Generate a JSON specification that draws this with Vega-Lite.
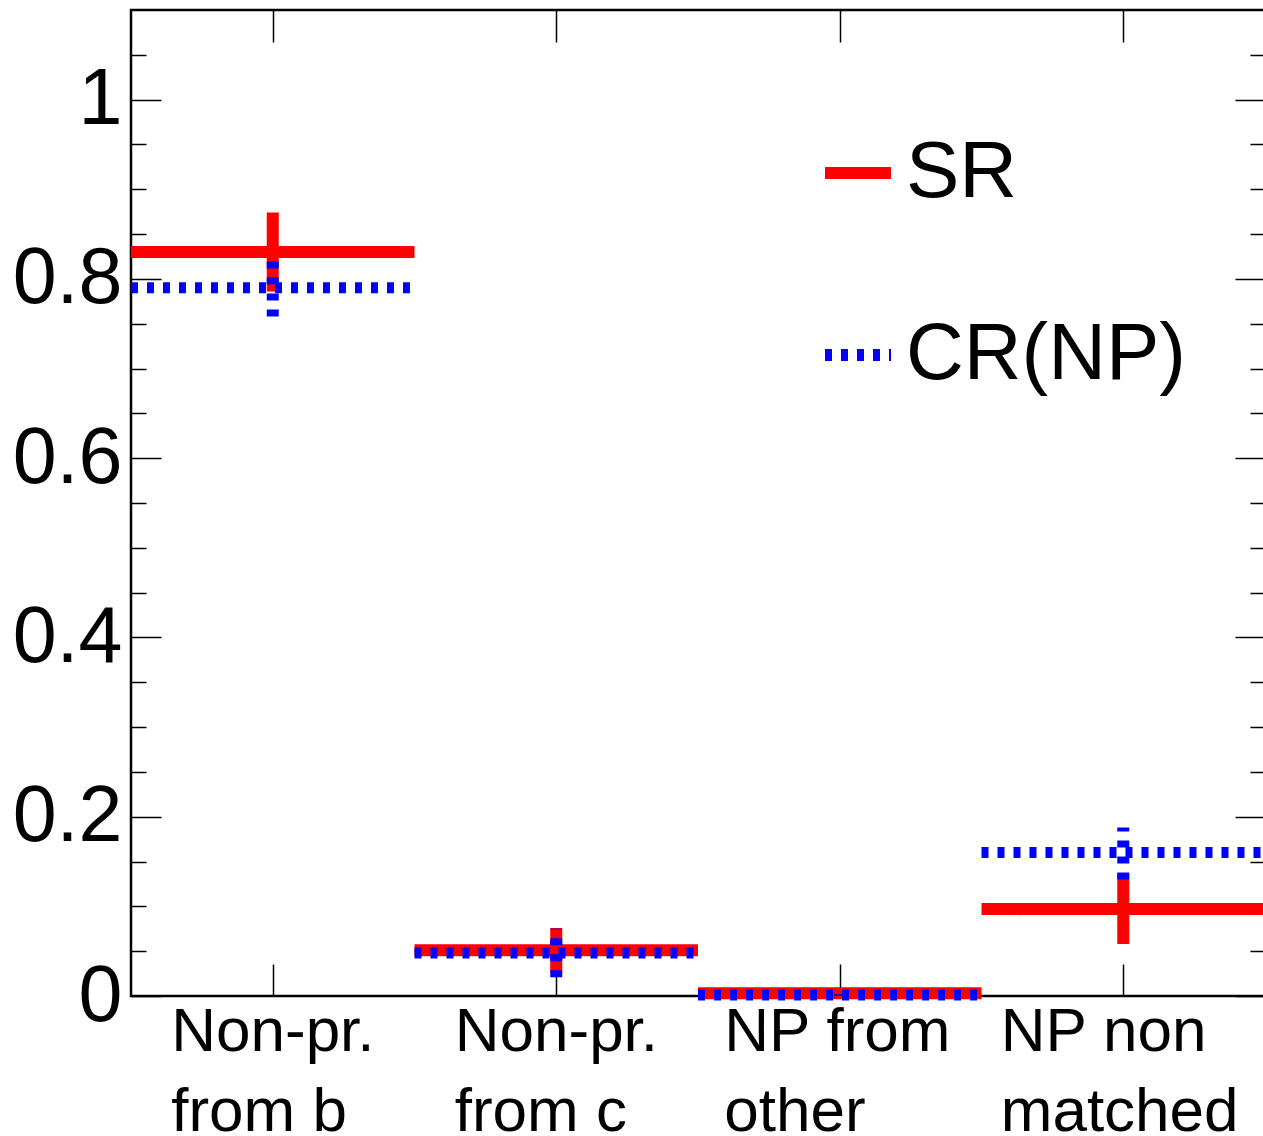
{
  "$schema": "https://vega.github.io/schema/vega-lite/v6.json",
  "width": 1134,
  "height": 986,
  "autosize": {"type": "none"},
  "padding": {"left": 131, "top": 10, "right": 0, "bottom": 140},
  "background": "white",
  "config": {
    "font": "Liberation Sans",
    "view": {"stroke": "black", "strokeWidth": 2.5},
    "axis": {"domain": false, "grid": false, "tickColor": "black", "tickWidth": 1.5, "labelColor": "black", "labelFont": "Liberation Sans", "labelLimit": 0}
  },
  "data": {
    "values": [
      {"bin": "Non-pr. from b", "series": "SR", "x0": 0, "x1": 1, "xc": 0.5, "value": 0.83, "elo": 0.786, "ehi": 0.874},
      {"bin": "Non-pr. from c", "series": "SR", "x0": 1, "x1": 2, "xc": 1.5, "value": 0.051, "elo": 0.026, "ehi": 0.076},
      {"bin": "NP from other", "series": "SR", "x0": 2, "x1": 3, "xc": 2.5, "value": 0.003, "elo": 0.001, "ehi": 0.005},
      {"bin": "NP non matched", "series": "SR", "x0": 3, "x1": 4, "xc": 3.5, "value": 0.097, "elo": 0.058, "ehi": 0.136},
      {"bin": "Non-pr. from b", "series": "CR(NP)", "x0": 0, "x1": 1, "xc": 0.5, "value": 0.79, "elo": 0.758, "ehi": 0.822},
      {"bin": "Non-pr. from c", "series": "CR(NP)", "x0": 1, "x1": 2, "xc": 1.5, "value": 0.048, "elo": 0.021, "ehi": 0.075},
      {"bin": "NP from other", "series": "CR(NP)", "x0": 2, "x1": 3, "xc": 2.5, "value": 0.001, "elo": 0.0, "ehi": 0.002},
      {"bin": "NP non matched", "series": "CR(NP)", "x0": 3, "x1": 4, "xc": 3.5, "value": 0.16, "elo": 0.13, "ehi": 0.188}
    ]
  },
  "resolve": {"axis": {"x": "independent", "y": "independent"}},
  "encoding": {
    "color": {
      "field": "series", "type": "nominal",
      "scale": {"domain": ["SR", "CR(NP)"], "range": ["#ff0000", "#0000ff"]},
      "legend": {"orient": "none", "legendX": 687, "legendY": 123, "title": null, "labelFontSize": 80, "labelFont": "Liberation Sans", "labelColor": "black", "symbolType": "stroke", "symbolSize": 4356, "symbolStrokeWidth": 12, "labelOffset": 8, "rowPadding": 102, "labelLimit": 0}
    },
    "strokeDash": {
      "field": "series", "type": "nominal",
      "scale": {"domain": ["SR", "CR(NP)"], "range": [[1, 0], [7, 9]]},
      "legend": {"orient": "none", "legendX": 687, "legendY": 123, "title": null, "labelFontSize": 80, "labelFont": "Liberation Sans", "labelColor": "black", "symbolType": "stroke", "symbolSize": 4356, "symbolStrokeWidth": 12, "labelOffset": 8, "rowPadding": 102, "labelLimit": 0}
    }
  },
  "layer": [
    {
      "transform": [{"filter": "datum.series == 'SR'"}],
      "mark": {"type": "rule", "strokeWidth": 12, "strokeCap": "butt"},
      "encoding": {
        "x": {
          "field": "x0", "type": "quantitative",
          "scale": {"domain": [0, 4], "nice": false, "zero": false},
          "axis": {
            "orient": "bottom", "title": null, "values": [0.5, 1.5, 2.5, 3.5],
            "tickSize": -32, "labelPadding": 37, "labelFontSize": 62, "labelLineHeight": 80, "labelLimit": 0,
            "labelAlign": "left", "labelBaseline": "top", "labelFlush": false, "labelOverlap": false, "labelBound": false,
            "labelOffset": {"condition": [{"test": "datum.value == 2.5", "value": -116}, {"test": "datum.value == 3.5", "value": -123}], "value": -102},
            "labelExpr": "datum.value == 0.5 ? ['Non-pr.', 'from b'] : datum.value == 1.5 ? ['Non-pr.', 'from c'] : datum.value == 2.5 ? ['NP from', 'other'] : ['NP non', 'matched']"
          }
        },
        "x2": {"field": "x1"},
        "y": {
          "field": "value", "type": "quantitative",
          "scale": {"domain": [0, 1.1], "nice": false, "zero": false},
          "axis": {
            "orient": "left", "title": null, "values": [0, 0.2, 0.4, 0.6, 0.8, 1],
            "format": "~g", "tickSize": -30, "labelPadding": 39, "labelFontSize": 79,
            "labelOverlap": false, "labelBaseline": "middle"
          }
        }
      }
    },
    {
      "transform": [{"filter": "datum.series == 'SR'"}],
      "mark": {"type": "rule", "strokeWidth": 12, "strokeCap": "butt"},
      "encoding": {
        "x": {
          "field": "xc", "type": "quantitative",
          "axis": {"orient": "top", "title": null, "values": [0.5, 1.5, 2.5, 3.5], "tickSize": -32, "labels": false}
        },
        "y": {
          "field": "elo", "type": "quantitative",
          "axis": {"orient": "left", "title": null, "values": [0.05, 0.1, 0.15, 0.25, 0.3, 0.35, 0.45, 0.5, 0.55, 0.65, 0.7, 0.75, 0.85, 0.9, 0.95, 1.05], "tickSize": -15, "labels": false}
        },
        "y2": {"field": "ehi"}
      }
    },
    {
      "transform": [{"filter": "datum.series == 'CR(NP)'"}],
      "mark": {"type": "rule", "strokeWidth": 11, "strokeCap": "butt"},
      "encoding": {
        "x": {"field": "x0", "type": "quantitative", "axis": null},
        "x2": {"field": "x1"},
        "y": {
          "field": "value", "type": "quantitative",
          "axis": {"orient": "right", "title": null, "values": [0, 0.2, 0.4, 0.6, 0.8, 1], "tickSize": -30, "labels": false}
        }
      }
    },
    {
      "transform": [{"filter": "datum.series == 'CR(NP)'"}],
      "mark": {"type": "rule", "strokeWidth": 12, "strokeCap": "butt"},
      "encoding": {
        "x": {"field": "xc", "type": "quantitative", "axis": null},
        "y": {
          "field": "elo", "type": "quantitative",
          "axis": {"orient": "right", "title": null, "values": [0.05, 0.1, 0.15, 0.25, 0.3, 0.35, 0.45, 0.5, 0.55, 0.65, 0.7, 0.75, 0.85, 0.9, 0.95, 1.05], "tickSize": -15, "labels": false}
        },
        "y2": {"field": "ehi"}
      }
    }
  ]
}
